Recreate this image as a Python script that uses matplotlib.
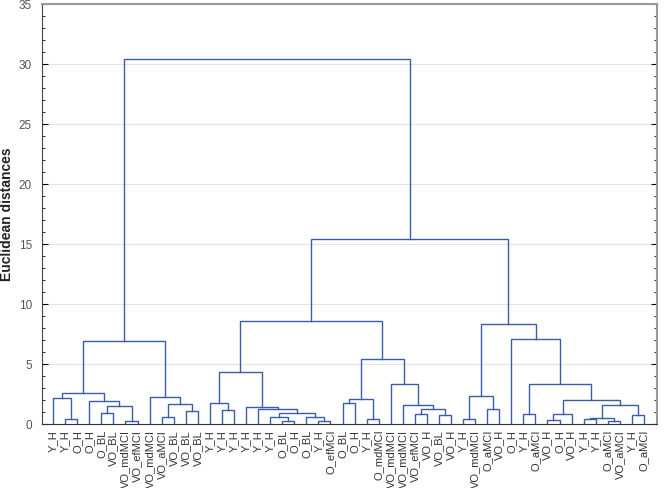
import matplotlib
matplotlib.use('Agg')
import matplotlib.pyplot as plt
from matplotlib.ticker import MultipleLocator

plt.rcParams['font.family'] = ['Liberation Sans', 'DejaVu Sans']

labels = ['Y_H', 'Y_H', 'O_H', 'O_H', 'O_BL', 'VO_BL', 'VO_mdMCI', 'VO_efMCI',
          'VO_mdMCI', 'VO_aMCI', 'VO_BL', 'VO_BL', 'VO_BL',
          'Y_H', 'Y_H', 'Y_H', 'Y_H', 'Y_H', 'Y_H', 'O_BL', 'O_H', 'O_BL', 'Y_H',
          'O_efMCI', 'O_BL', 'O_H', 'Y_H', 'O_mdMCI', 'VO_mdMCI', 'VO_mdMCI',
          'VO_efMCI', 'VO_H', 'VO_BL', 'VO_H',
          'Y_H', 'VO_mdMCI', 'O_aMCI', 'VO_H', 'O_H', 'Y_H', 'O_aMCI', 'VO_H',
          'O_H', 'VO_H', 'Y_H', 'Y_H', 'O_aMCI', 'VO_aMCI', 'Y_H', 'O_aMCI']

# tree nodes: (left, right, linkage distance); ints are leaf indices
clust_a = ((0, (1, 2, 0.47), 2.2),
           (3, ((4, 5, 0.94), (6, 7, 0.25), 1.5), 1.94), 2.64)
clust_b = (8, ((9, 10, 0.61), (11, 12, 1.08), 1.69), 2.28)
clust_ab = (clust_a, clust_b, 6.94)

clust_c1 = ((13, (14, 15, 1.22), 1.81),
            (16, (17, ((18, (19, 20, 0.25), 0.61), (21, (22, 23, 0.25), 0.61), 0.94), 1.3), 1.44),
            4.36)
clust_c2 = (((24, 25, 1.8), (26, 27, 0.47), 2.08),
            (28, (29, ((30, 31, 0.89), (32, 33, 0.81), 1.25), 1.58), 3.39),
            5.47)
clust_c = (clust_c1, clust_c2, 8.58)

clust_d1 = ((34, 35, 0.47), (36, 37, 1.25), 2.36)
clust_d2 = (38, ((39, 40, 0.89),
                 (((41, 42, 0.39), 43, 0.89),
                  (((44, 45, 0.47), (46, 47, 0.28), 0.56), (48, 49, 0.75), 1.64),
                  2.06),
                 3.33), 7.14)
clust_d = (clust_d1, clust_d2, 8.39)

tree = (clust_ab, (clust_c, clust_d, 15.4), 30.4)

line_col = '#3d5ca6'

fig = plt.figure(figsize=(6.64, 4.88), dpi=100)
ax = fig.add_axes([0.0628, 0.1305, 0.926, 0.861])


def draw(node):
    if isinstance(node, int):
        return node, 0.0
    left, right, h = node
    lx, ly = draw(left)
    rx, ry = draw(right)
    ax.plot([lx, lx, rx, rx], [ly, h, h, ry], color=line_col, lw=1.0,
            solid_joinstyle='miter', zorder=3)
    return (lx + rx) / 2, h


draw(tree)

ax.set_xlim(-0.95, 50.05)
ax.set_ylim(0, 35)
ax.set_xticks(range(len(labels)))
ax.set_xticklabels(labels, rotation=90, fontsize=8, color='#333333')
ax.tick_params(axis='x', length=0, pad=4)

ax.yaxis.set_major_locator(MultipleLocator(5))
ax.yaxis.set_minor_locator(MultipleLocator(1))
ax.tick_params(axis='y', which='major', direction='in', length=4, width=0.8,
               labelsize=8.5, labelcolor='#555555', right=True, pad=7)
ax.tick_params(axis='y', which='minor', direction='in', length=2, width=0.6, right=True)
ax.grid(axis='y', which='major', color='#e3e3e3', lw=0.8, zorder=0)

ax.spines['left'].set_color('#444444')
ax.spines['bottom'].set_color('#333333')
ax.spines['top'].set_color('#999999')
ax.spines['right'].set_color('#999999')
ax.spines['top'].set_linewidth(1.5)
ax.spines['right'].set_linewidth(1.5)

ax.set_ylabel('Euclidean distances', fontsize=10, fontweight='bold', color='#222222')
ax.yaxis.set_label_coords(-0.045, 0.5)

fig.savefig('out.png', dpi=100)
